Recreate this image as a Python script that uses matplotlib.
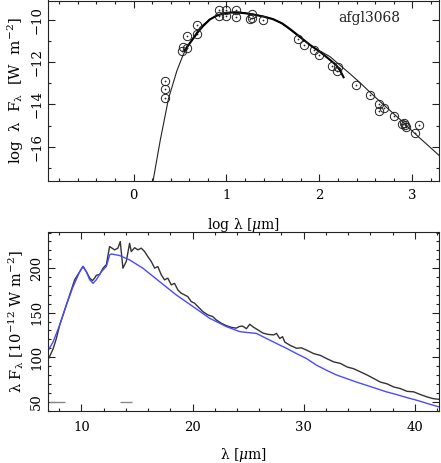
import matplotlib
matplotlib.use("Agg")
import matplotlib.pyplot as plt
from matplotlib.ticker import MultipleLocator

plt.rcParams['font.family'] = ['DejaVu Serif']
plt.rcParams['mathtext.fontset'] = 'dejavuserif'

# ---- top panel data: photometry (log lambda [um], log lambda F_lambda [W m^-2])
phot_logl = [0.344, 0.344, 0.344, 0.52, 0.53, 0.58, 0.577, 0.68, 0.68,
             0.918, 0.918, 0.99, 0.99, 1.10, 1.10, 1.27, 1.25, 1.27, 1.39,
             1.774, 1.835, 1.946, 1.997, 2.14, 2.19, 2.20,
             2.395, 2.54, 2.64, 2.64, 2.69, 2.80, 2.89, 2.92, 2.93, 2.91, 3.075, 3.03]
phot_logf = [-12.91, -13.29, -13.68, -11.46, -11.31, -11.35, -10.77, -10.24, -10.67,
             -9.54, -9.81, -9.54, -9.81, -9.54, -9.86, -9.73, -9.99, -9.92, -10.03,
             -10.93, -11.18, -11.43, -11.67, -12.20, -12.41, -12.25,
             -13.10, -13.57, -13.96, -14.31, -14.15, -14.53, -14.91, -14.97, -15.05, -14.87, -14.98, -15.36]

# model SED (thin line)
model_logl = [0.208, 0.287, 0.376, 0.467, 0.538, 0.61, 0.717, 0.825, 0.932, 1.0, 1.075,
              1.15, 1.22, 1.29, 1.36, 1.43, 1.505, 1.58, 1.65, 1.72, 1.79, 1.86, 1.935,
              2.02, 2.115, 2.22, 2.33, 2.44, 2.545, 2.65, 2.76, 2.87, 2.975, 3.08, 3.19, 3.30]
model_logf = [-17.67, -15.71, -13.74, -12.41, -11.62, -11.07, -10.36, -9.97, -9.76, -9.69, -9.65,
              -9.65, -9.70, -9.75, -9.81, -9.88, -9.97, -10.15, -10.36, -10.60, -10.83, -11.07, -11.31,
              -11.52, -11.75, -12.15, -12.56, -12.99, -13.43, -13.86, -14.29, -14.72, -15.16, -15.59, -16.02, -16.46]

# ISO spectrum (thick line)
iso_logl = [0.55, 0.60, 0.65, 0.70, 0.75, 0.82, 0.90, 1.0, 1.1, 1.2, 1.3, 1.4, 1.5,
            1.6, 1.65, 1.7, 1.8, 1.9, 2.0, 2.1, 2.18, 2.22, 2.26]
iso_logf = [-11.45, -11.15, -10.85, -10.55, -10.30, -10.00, -9.80, -9.68, -9.66, -9.70, -9.77, -9.86, -9.98,
            -10.18, -10.34, -10.50, -10.85, -11.20, -11.50, -11.85, -12.15, -12.38, -12.72]

# ---- bottom panel data
spec_wl = [7.09, 7.45, 7.75, 8.05, 8.5, 8.95, 9.4, 9.85, 10.15, 10.45, 10.75, 11.0, 11.2, 11.35,
           11.65, 11.95, 12.25, 12.54, 12.99, 13.29, 13.5, 13.74, 14.04, 14.34, 14.49, 14.79,
           15.09, 15.39, 15.69, 15.98, 16.29, 16.59, 16.88, 17.19, 17.48, 17.78, 18.09, 18.38,
           18.68, 18.98, 19.28, 19.58, 19.88, 20.18, 20.48, 20.93, 21.38, 21.82, 22.13, 22.58,
           23.03, 23.48, 23.93, 24.22, 24.5, 24.85, 25.15, 25.45, 25.9, 26.35, 26.8, 27.3, 27.55,
           27.85, 28.1, 28.3, 28.75, 29.35, 29.8, 30.25, 30.9, 31.5, 32.05, 32.7, 33.3, 33.9,
           34.5, 35.1, 35.7, 36.3, 36.9, 37.5, 38.1, 38.7, 39.3, 39.9, 40.5, 41.1, 41.65, 42.2]
spec_flux = [99.2, 109, 121, 136, 153, 170, 187, 196, 202, 196, 189, 186, 189, 192,
             193, 200, 204, 224.3, 220.6, 222.5, 229.9, 200, 207.5, 228, 218.7, 223,
             220.6, 222.5, 218.7, 213, 207.5, 200, 201.8, 192.5, 186.9, 188.8, 181.2, 183,
             175.6, 171.9, 170, 168, 162.5, 160.7, 156.9, 151.2, 147.5, 145.6, 141.9, 138.2,
             135.5, 133.5, 132.6, 134.5, 135, 132, 137, 134, 130.5, 127, 125.6, 125, 126.7,
             121, 123, 117, 113.5, 110, 110.5, 108, 104, 102, 98.5, 94.7, 93, 89,
             87, 83.5, 80, 76, 72, 70, 66.5, 64.7, 61.6, 61, 58, 55.3, 53.4, 52.6]

mod_wl = [7.09, 7.45, 8.05, 8.65, 9.25, 9.85, 10.15, 10.45, 10.75, 11.05, 11.35, 11.8, 12.25,
          12.55, 12.7, 13.44, 14.34, 15.53, 17.03, 18.53, 20.03, 21.53, 23.03, 24.22,
          24.85, 25.75, 26.65, 27.55, 28.45, 29.35, 30.25, 31.15, 32.05,
          32.95, 33.85, 34.75, 35.65, 36.55, 37.45, 38.35, 39.3, 40.2, 41.1, 42.2]
mod_flux = [109, 117, 136, 158.6, 179, 196, 202, 196, 187, 183, 187, 196, 202,
            215, 216, 214.2, 209.3, 200, 185, 170, 157, 143.8, 134.4, 128.8,
            127.8, 126.7, 121, 115.4, 110, 104, 98.5, 91, 85.3,
            80, 76, 72, 68.4, 64.7, 61, 58, 54.5, 51.5, 48, 44]

# filter bandwidth bars
band_lo = [7.1, 13.5]
band_hi = [8.5, 14.55]
band_level = [50, 50]

W, H = 441, 463
fig = plt.figure(figsize=(W / 100, H / 100), dpi=100)

def fx(px):
    return px / W

def fy(py):
    return 1 - py / H

ax1 = fig.add_axes([fx(48), fy(181.3), fx(439.3) - fx(48), fy(0.5) - fy(181.3)])
ax2 = fig.add_axes([fx(48), fy(411), fx(439.3) - fx(48), fy(231.7) - fy(411)])

ink = '#222222'
fs = 9.5

for ax in (ax1, ax2):
    ax.tick_params(which='both', direction='in', top=True, right=True, labelsize=fs,
                   color=ink, width=0.8)
    ax.tick_params(which='major', length=5)
    ax.tick_params(which='minor', length=2.5)
    ax.tick_params(axis='y', labelrotation=90)
    for s in ax.spines.values():
        s.set_linewidth(0.8)
        s.set_color(ink)

ax1.tick_params(axis='x', pad=5.7)
ax2.tick_params(axis='x', pad=7.5)

# top panel
ax1.plot(model_logl, model_logf, color=ink, lw=0.8)
ax1.plot(iso_logl, iso_logf, color='black', lw=1.5)
ax1.plot(phot_logl, phot_logf, ls='none', marker='o', ms=6, mfc='none', mec=ink, mew=0.7)
ax1.plot(phot_logl, phot_logf, ls='none', marker='o', ms=0.9, mfc=ink, mec=ink, mew=0.3)
ax1.set_xlim(-0.92, 3.29)
ax1.set_ylim(-17.63, -9.1)
ax1.xaxis.set_major_locator(MultipleLocator(1))
ax1.xaxis.set_minor_locator(MultipleLocator(0.2))
ax1.yaxis.set_major_locator(MultipleLocator(2))
ax1.yaxis.set_minor_locator(MultipleLocator(1))
ax1.set_xlabel(r'log $\mathrm{\lambda}$ [$\mu$m]', fontsize=fs + 0.5, labelpad=10)
ax1.set_ylabel(r'log  $\mathrm{\lambda}$  F$_{\mathrm{\lambda}}$  [W  m$^{-2}$]', fontsize=fs + 1.3, labelpad=3)
ax1.text(0.741, 0.905, 'afgl3068', transform=ax1.transAxes, fontsize=fs + 0.5,
         ha='left', va='center', color=ink)

# bottom panel
ax2.plot(spec_wl, spec_flux, color='#333333', lw=1.0)
ax2.plot(mod_wl, mod_flux, color='#4a4aff', lw=1.0)
ax2.hlines(band_level, band_lo, band_hi, color='#888888', lw=1.0)
ax2.set_xlim(7, 42.2)
ax2.set_ylim(39.5, 241)
ax2.xaxis.set_major_locator(MultipleLocator(10))
ax2.xaxis.set_minor_locator(MultipleLocator(2))
ax2.yaxis.set_major_locator(MultipleLocator(50))
ax2.yaxis.set_minor_locator(MultipleLocator(10))
ax2.set_xlabel(r'$\mathrm{\lambda}$ [$\mu$m]', fontsize=fs + 0.5, labelpad=8)
ax2.set_ylabel(r'$\mathrm{\lambda}$ F$_{\mathrm{\lambda}}$ [10$^{-12}$ W m$^{-2}$]', fontsize=fs + 1.0, labelpad=3)

for ax in (ax1, ax2):
    for lab in ax.get_yticklabels():
        lab.set_va('center')

fig.savefig('out.png', dpi=100)
